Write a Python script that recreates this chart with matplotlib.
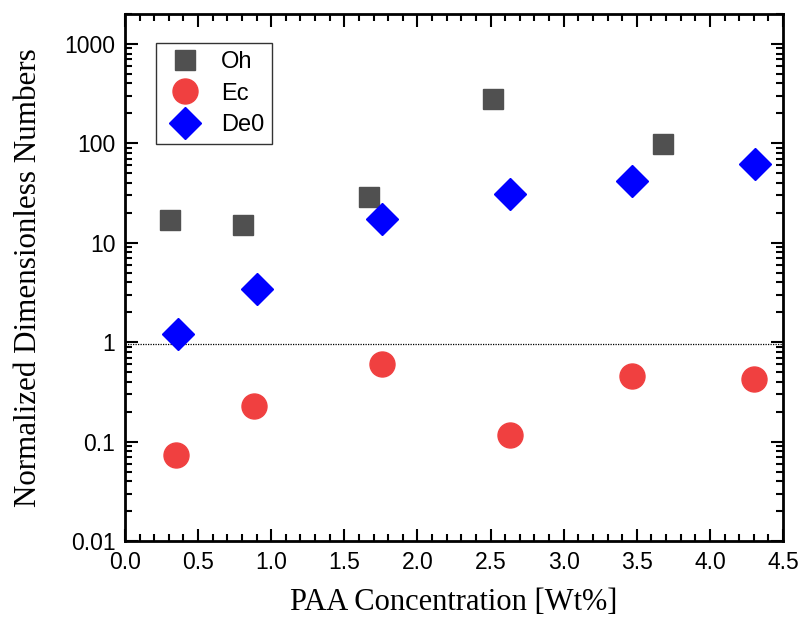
import numpy as np
import matplotlib.pyplot as plt
from matplotlib.ticker import MultipleLocator, LogLocator, FixedLocator, FixedFormatter

# data
oh_x = [0.31, 0.81, 1.67, 2.52, 3.68]
oh_y = [17, 15, 29, 280, 98]
ec_x = [0.35, 0.88, 1.76, 2.63, 3.47, 4.30]
ec_y = [0.073, 0.23, 0.61, 0.117, 0.46, 0.43]
de_x = [0.36, 0.90, 1.76, 2.63, 3.47, 4.31]
de_y = [1.2, 3.4, 17.5, 31, 42, 62]
ytick_vals = [0.01, 0.1, 1, 10, 100, 1000]
ytick_labels = ["0.01", "0.1", "1", "10", "100", "1000"]

plt.rcParams['font.family'] = ['Liberation Sans', 'DejaVu Sans']

fig = plt.figure(figsize=(8.12, 6.17), dpi=100)
ax = fig.add_axes([125/812, 1-541/617, (783-125)/812, (541-14)/617])

ax.axhline(0.95, color="black", linestyle=(0, (1, 1)), linewidth=0.9, zorder=1)

ax.plot(oh_x, oh_y, "s", color="#505050", ms=15, mec="#505050", label="Oh", zorder=3)
ax.plot(ec_x, ec_y, "o", color="#f04040", ms=18, mec="#f04040", label="Ec", zorder=3)
ax.plot(de_x, de_y, "D", color="#0000ff", ms=16, mec="#0000ff", label="De0", zorder=3)

ax.set_yscale("log")
ax.set_xlim(0, 4.5)
ax.set_ylim(0.01, 2000)
ax.xaxis.set_major_locator(MultipleLocator(0.5))
ax.xaxis.set_minor_locator(MultipleLocator(0.1))
ax.yaxis.set_major_locator(FixedLocator(ytick_vals))
ax.yaxis.set_major_formatter(FixedFormatter(ytick_labels))
ax.yaxis.set_minor_locator(LogLocator(base=10, subs=np.arange(2, 10)))
ax.yaxis.set_minor_formatter(plt.NullFormatter())

ax.tick_params(which="both", direction="in", top=True, right=True, width=1.5)
ax.tick_params(which="major", length=9, labelsize=16.5, pad=7)
ax.tick_params(which="minor", length=5)
for s in ax.spines.values():
    s.set_linewidth(2)

ax.set_xlabel("PAA Concentration [Wt%]", family="Liberation Serif", fontsize=22, labelpad=10)
ax.set_ylabel("Normalized Dimensionless Numbers", family="Liberation Serif", fontsize=22.3, labelpad=15)

leg = ax.legend(loc="upper left", bbox_to_anchor=(0.047, 0.945), borderaxespad=0, fontsize=17,
                frameon=True, fancybox=False, edgecolor="black", handletextpad=0.6,
                handlelength=1.8, labelspacing=0.4, borderpad=0.35, markerscale=1.0)
leg.get_frame().set_linewidth(1.0)

fig.savefig("out.png", dpi=100)
plt.close()
